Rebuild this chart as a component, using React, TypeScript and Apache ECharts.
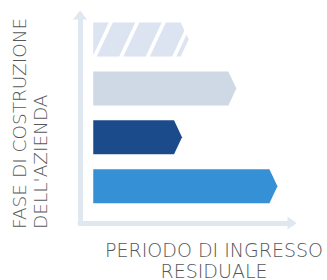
import React, { useEffect, useRef } from "react";
import * as echarts from "echarts";

// bottom-to-top order
const categories = ["Fase 4", "Fase 3", "Fase 2", "Fase 1"];
const barValues = [13.9, 6.7, 10.8, 7.2];
const barColors = ["#3590d6", "#1b4b8b", "#cfd9e6", "hatch"];
const yAxisTitle = "FASE DI COSTRUZIONE\nDELL'AZIENDA";
const xAxisTitle = "PERIODO DI INGRESSO\nRESIDUALE";

const AXIS_COLOR = "#dfe7f1";
const HATCH_COLOR = "#dbe4f0";
const TEXT_COLOR = "#555759";
const FONT = "DejaVu Sans";

export default function App() {
  const ref = useRef<HTMLDivElement>(null);
  useEffect(() => {
    document.body.style.margin = "0";
    if (!ref.current) return;
    const chart = echarts.init(ref.current, undefined, { renderer: "svg" });
    const data = barValues.map((v, i) => [v, i]);
    chart.setOption({
      animation: false,
      grid: { left: 80, right: 35, top: 15, bottom: 57 },
      xAxis: {
        type: "value",
        min: -1,
        max: 15,
        axisLabel: { show: false },
        axisTick: { show: false },
        splitLine: { show: false },
        axisLine: {
          show: true,
          onZero: false,
          symbol: ["none", "triangle"],
          symbolSize: [13, 9],
          lineStyle: { color: AXIS_COLOR, width: 5, cap: "round" },
        },
      },
      yAxis: {
        type: "value",
        min: -0.75,
        max: 3.5,
        axisLabel: { show: false },
        axisTick: { show: false },
        splitLine: { show: false },
        axisLine: {
          show: true,
          onZero: false,
          symbol: ["none", "triangle"],
          symbolSize: [14, 9],
          lineStyle: { color: AXIS_COLOR, width: 5, cap: "round" },
        },
      },
      series: [
        {
          type: "custom",
          name: "fasi",
          data,
          encode: { x: 0, y: 1 },
          renderItem: (params: any, api: any) => {
            const idx = api.value(1);
            const v = api.value(0);
            const start = api.coord([0, idx]);
            const end = api.coord([v, idx]);
            const h = 34;
            const tip = 8;
            const x0 = start[0];
            const xt = end[0];
            const cy = start[1];
            const y0 = cy - h / 2;
            const y1 = cy + h / 2;
            const pts = [
              [x0, y0],
              [xt - tip, y0],
              [xt, cy],
              [xt - tip, y1],
              [x0, y1],
            ];
            const color = barColors[idx];
            if (color !== "hatch") {
              return {
                type: "polygon",
                shape: { points: pts },
                style: { fill: color },
              };
            }
            const children: any[] = [
              {
                type: "polygon",
                shape: { points: pts },
                style: { fill: HATCH_COLOR },
              },
            ];
            const period = 26.5;
            const slant = 17;
            for (let bx = x0 + 1; bx < xt + 2; bx += period) {
              children.push({
                type: "line",
                shape: { x1: bx, y1: y1 + 1, x2: bx + slant, y2: y0 - 1 },
                style: { stroke: "#ffffff", lineWidth: 3.8 },
              });
            }
            return { type: "group", children };
          },
        },
      ],
      graphic: [
        {
          type: "text",
          x: 30,
          y: 229,
          rotation: Math.PI / 2,
          style: {
            text: yAxisTitle,
            fill: TEXT_COLOR,
            font: `300 18.5px '${FONT}'`,
            align: "left",
            verticalAlign: "middle",
            lineHeight: 21,
          },
        },
        {
          type: "text",
          x: 214,
          y: 260,
          style: {
            text: xAxisTitle,
            fill: TEXT_COLOR,
            font: `300 19px '${FONT}'`,
            align: "center",
            verticalAlign: "middle",
            lineHeight: 21,
          },
        },
      ],
    });
    return () => chart.dispose();
  }, []);
  return <div ref={ref} style={{ width: 327, height: 280 }} />;
}
